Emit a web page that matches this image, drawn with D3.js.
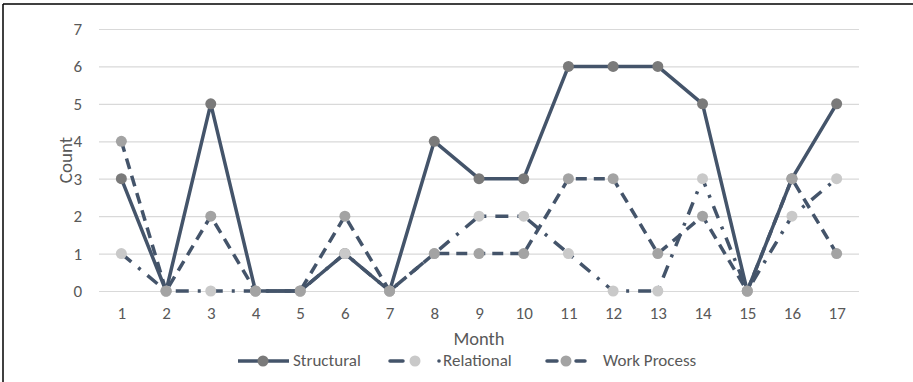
<!DOCTYPE html>
<html><head><meta charset="utf-8">
<script src="https://cdn.jsdelivr.net/npm/d3@7"></script>
<style>body{margin:0;background:#fff}svg{display:block}text{font-family:Carlito,"Open Sans","Liberation Sans",sans-serif}</style>
</head><body><svg id="c" width="913" height="382"></svg>
<script>
const months = [1,2,3,4,5,6,7,8,9,10,11,12,13,14,15,16,17];
const yTicks = [0,1,2,3,4,5,6,7];
const structural = [3,0,5,0,0,1,0,4,3,3,6,6,6,5,0,3,5];
const relational = [1,0,0,0,0,1,0,1,2,2,1,0,0,3,0,2,3];
const workProcess = [4,0,2,0,0,2,0,1,1,1,3,3,1,2,0,3,1];
const seriesNames = ["Structural","Relational","Work Process"];

const series = [
  {name:seriesNames[0], values:structural, dash:null, marker:"#7a7a7a"},
  {name:seriesNames[1], values:relational, dash:"13,9,3,9", marker:"#c9c9c9"},
  {name:seriesNames[2], values:workProcess, dash:"11,7", marker:"#a3a3a3"}
];
const lineColor = "#44546a";
const svg = d3.select("#c");
// frame (left + top)
svg.append("line").attr("x1",3).attr("x2",3).attr("y1",4).attr("y2",382).attr("stroke","#000").attr("stroke-width",1.5);
svg.append("line").attr("x1",3).attr("x2",913).attr("y1",4).attr("y2",4).attr("stroke","#000").attr("stroke-width",1.5);

const x = d3.scalePoint().domain(months).range([99,859]).padding(0.5);
const y = d3.scaleLinear().domain([0,7]).range([291,29]);

const gy = svg.append("g").attr("transform","translate(99,0)")
  .call(d3.axisLeft(y).tickValues(yTicks).tickSize(-760).tickFormat(d3.format("d")));
gy.select(".domain").remove();
gy.selectAll(".tick line").attr("stroke","#d9d9d9").attr("stroke-width",1.2);
gy.selectAll(".tick text").attr("x",-17).attr("fill","#595959").attr("font-size",17);

const gx = svg.append("g").attr("transform","translate(0,291)")
  .call(d3.axisBottom(x).tickSize(0).tickPadding(0));
gx.select(".domain").remove();
gx.selectAll(".tick text").attr("dy",null).attr("y",28).attr("fill","#595959").attr("font-size",17);

svg.append("text").attr("x",479).attr("y",345).attr("text-anchor","middle")
  .attr("fill","#595959").attr("font-size",18.5).text("Month");
svg.append("text").attr("transform","translate(72,160) rotate(-90)").attr("text-anchor","middle")
  .attr("fill","#595959").attr("font-size",19).text("Count");

const line = d3.line().x((d,i)=>x(months[i])).y(d=>y(d));
series.forEach(s=>{
  const g = svg.append("g");
  g.append("path").attr("d",line(s.values)).attr("fill","none").attr("stroke",lineColor)
    .attr("stroke-width",3.5).attr("stroke-linejoin","round")
    .attr("stroke-dasharray",s.dash);
  g.selectAll("circle").data(s.values).join("circle")
    .attr("cx",(d,i)=>x(months[i])).attr("cy",d=>y(d)).attr("r",5.5).attr("fill",s.marker);
});

// legend
const leg = svg.append("g");
const ly = 361;
const fs = 17;
// Structural
leg.append("line").attr("x1",238).attr("x2",289).attr("y1",ly).attr("y2",ly).attr("stroke",lineColor).attr("stroke-width",3.5);
leg.append("circle").attr("cx",263).attr("cy",ly).attr("r",5.5).attr("fill",series[0].marker);
leg.append("text").attr("x",293).attr("y",ly+5).attr("fill","#595959").attr("font-size",fs).text(seriesNames[0]);
// Relational
leg.append("line").attr("x1",390).attr("x2",403).attr("y1",ly).attr("y2",ly).attr("stroke",lineColor).attr("stroke-width",3.5).attr("stroke-linecap","round");
leg.append("circle").attr("cx",415).attr("cy",ly).attr("r",5.5).attr("fill",series[1].marker);
leg.append("circle").attr("cx",439).attr("cy",ly).attr("r",1.8).attr("fill",lineColor);
leg.append("text").attr("x",443).attr("y",ly+5).attr("fill","#595959").attr("font-size",fs).text(seriesNames[1]);
// Work Process
leg.append("line").attr("x1",547).attr("x2",557).attr("y1",ly).attr("y2",ly).attr("stroke",lineColor).attr("stroke-width",3.5).attr("stroke-linecap","round");
leg.append("circle").attr("cx",566).attr("cy",ly).attr("r",5.5).attr("fill",series[2].marker);
leg.append("line").attr("x1",576).attr("x2",585).attr("y1",ly).attr("y2",ly).attr("stroke",lineColor).attr("stroke-width",3.5).attr("stroke-linecap","round");
leg.append("text").attr("x",603).attr("y",ly+5).attr("fill","#595959").attr("font-size",fs).text(seriesNames[2]);
</script></body></html>
